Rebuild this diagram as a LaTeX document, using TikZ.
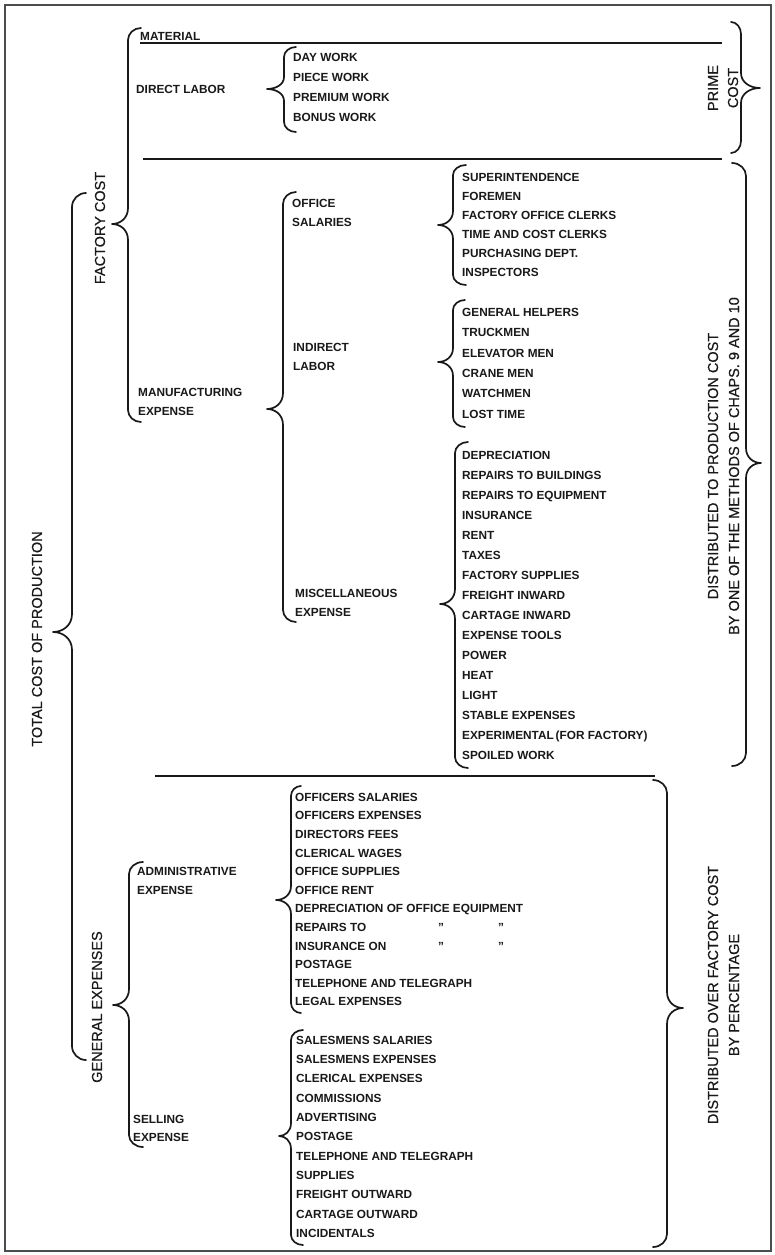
\documentclass[tikz,border=0pt]{standalone}
\usepackage{fontspec}
\setmainfont{Liberation Sans}
\newfontfamily\medfont{Liberation Sans}[FakeBold=0.5]
% brace: xend xv xtip ytop ytip ybot curl tipcurve
\newcommand\brc[8]{%
  \draw[brace line] (#1,#4)
    .. controls ({#2+0.45*(#1-#2)},#4) and (#2,{#4+0.45*#7}) .. (#2,{#4+#7})
    -- (#2,{#5-#8})
    .. controls (#2,{#5-0.35*#8}) and ({#3+0.5*(#2-#3)},#5) .. (#3,#5)
    .. controls ({#3+0.5*(#2-#3)},#5) and (#2,{#5+0.35*#8}) .. (#2,{#5+#8})
    -- (#2,{#6-#7})
    .. controls (#2,{#6-0.45*#7}) and ({#2+0.45*(#1-#2)},#6) .. (#1,#6);}
\begin{document}
\begin{tikzpicture}[x=1pt,y=-1pt,
  brace line/.style={line width=1.7pt,line cap=round,line join=round,black!90},
  rule/.style={line width=2.6pt,black!90},
  it/.style={anchor=base west,inner sep=0pt,yshift=-4.3pt,
    font=\bfseries\fontsize{11.8}{14}\selectfont,text=black!90},
  big/.style={rotate=90,anchor=center,inner sep=0pt,
    font=\medfont\fontsize{14.5}{17}\selectfont,text=black!90}]
\useasboundingbox (0,0) rectangle (774,1255);
\fill[white] (0,0) rectangle (774,1255);
\draw[line width=1.4pt,black!70] (5,5) rectangle (771,1251);

% separator rules
\draw[rule] (140,43) -- (722,43);
\draw[rule] (143,159) -- (722,159);
\draw[rule] (155,776) -- (655,776);

% rotated labels
\node[big] (total) at (37,639) {TOTAL COST OF PRODUCTION};
\node[big] (factory) at (100,228) {FACTORY COST};
\node[big] (general) at (97,1007) {GENERAL EXPENSES};
\node[big] (prime1) at (713,88) {PRIME};
\node[big] (prime2) at (733,88) {COST};
\node[big] (dist1) at (713,466) {DISTRIBUTED TO PRODUCTION COST};
\node[big] (dist2) at (734,466) {BY ONE OF THE METHODS OF CHAPS. 9 AND 10};
\node[big] (over1) at (713,995) {DISTRIBUTED OVER FACTORY COST};
\node[big] (over2) at (734,995) {BY PERCENTAGE};

% second level labels
\node[it] (material) at (140,36) {MATERIAL};
\node[it] (dlabor) at (136,89) {DIRECT LABOR};
\node[it] (mfg1) at (138,392) {MANUFACTURING};
\node[it] (mfg2) at (138,411) {EXPENSE};
\node[it] (off1) at (292,203) {OFFICE};
\node[it] (off2) at (292,222) {SALARIES};
\node[it] (ind1) at (293,347) {INDIRECT};
\node[it] (ind2) at (293,366) {LABOR};
\node[it] (misc1) at (295,593) {MISCELLANEOUS};
\node[it] (misc2) at (295,612) {EXPENSE};
\node[it] (adm1) at (137,871) {ADMINISTRATIVE};
\node[it] (adm2) at (137,890) {EXPENSE};
\node[it] (sel1) at (133,1119) {SELLING};
\node[it] (sel2) at (133,1137) {EXPENSE};

% item lists
\foreach \t [count=\i from 0] in {DAY WORK,PIECE WORK,PREMIUM WORK,BONUS WORK}
  \node[it] (dl\i) at (293,{57+20*\i}) {\t};
\foreach \t [count=\i from 0] in {SUPERINTENDENCE,FOREMEN,FACTORY OFFICE CLERKS,
  TIME AND COST CLERKS,PURCHASING DEPT.,INSPECTORS}
  \node[it] (os\i) at (462,{177+19*\i}) {\t};
\foreach \t [count=\i from 0] in {GENERAL HELPERS,TRUCKMEN,ELEVATOR MEN,
  CRANE MEN,WATCHMEN,LOST TIME}
  \node[it] (il\i) at (462,{312+20.4*\i}) {\t};
\foreach \t [count=\i from 0] in {DEPRECIATION,REPAIRS TO BUILDINGS,
  REPAIRS TO EQUIPMENT,INSURANCE,RENT,TAXES,FACTORY SUPPLIES,FREIGHT INWARD,
  CARTAGE INWARD,EXPENSE TOOLS,POWER,HEAT,LIGHT,STABLE EXPENSES,
  EXPERIMENTAL\,(FOR FACTORY),SPOILED WORK}
  \node[it] (me\i) at (462,{455+20*\i}) {\t};
\foreach \t [count=\i from 0] in {OFFICERS SALARIES,OFFICERS EXPENSES,
  DIRECTORS FEES,CLERICAL WAGES,OFFICE SUPPLIES,OFFICE RENT,
  DEPRECIATION OF OFFICE EQUIPMENT,REPAIRS TO,INSURANCE ON,POSTAGE,
  TELEPHONE AND TELEGRAPH,LEGAL EXPENSES}
  \node[it] (ae\i) at (295,{797+18.6*\i}) {\t};
\foreach \t [count=\i from 0] in {SALESMENS SALARIES,SALESMENS EXPENSES,
  CLERICAL EXPENSES,COMMISSIONS,ADVERTISING,POSTAGE,TELEPHONE AND TELEGRAPH,
  SUPPLIES,FREIGHT OUTWARD,CARTAGE OUTWARD,INCIDENTALS}
  \node[it] (se\i) at (296,{1040+19.3*\i}) {\t};
% ditto marks
\node[it] (dit1) at (438,{797+18.6*7}) {"};
\node[it] (dit2) at (498,{797+18.6*7}) {"};
\node[it] (dit3) at (438,{797+18.6*8}) {"};
\node[it] (dit4) at (498,{797+18.6*8}) {"};

% braces
\brc{86}{72}{53}{193}{632}{1060}{14}{18}
\brc{141}{128}{112}{28}{224}{422}{12}{16}
\brc{143}{129}{113}{862}{1005}{1147}{12}{16}
\brc{296}{284}{267}{47}{89}{132}{10}{12}
\brc{296}{283}{267}{192}{409}{622}{12}{16}
\brc{466}{453}{438}{165}{225}{285}{10}{14}
\brc{465}{453}{438}{300}{362}{427}{10}{14}
\brc{468}{455}{440}{442}{604}{768}{11}{15}
\brc{301}{291}{276}{786}{900}{1013}{10}{14}
\brc{303}{291}{279}{1030}{1136}{1245}{10}{13}
\brc{731}{741}{760}{22}{88}{153}{12}{15}
\brc{732}{746}{761}{163}{463}{766}{13}{15}
\brc{653}{667}{683}{780}{1008}{1247}{13}{16}
\end{tikzpicture}
\end{document}
